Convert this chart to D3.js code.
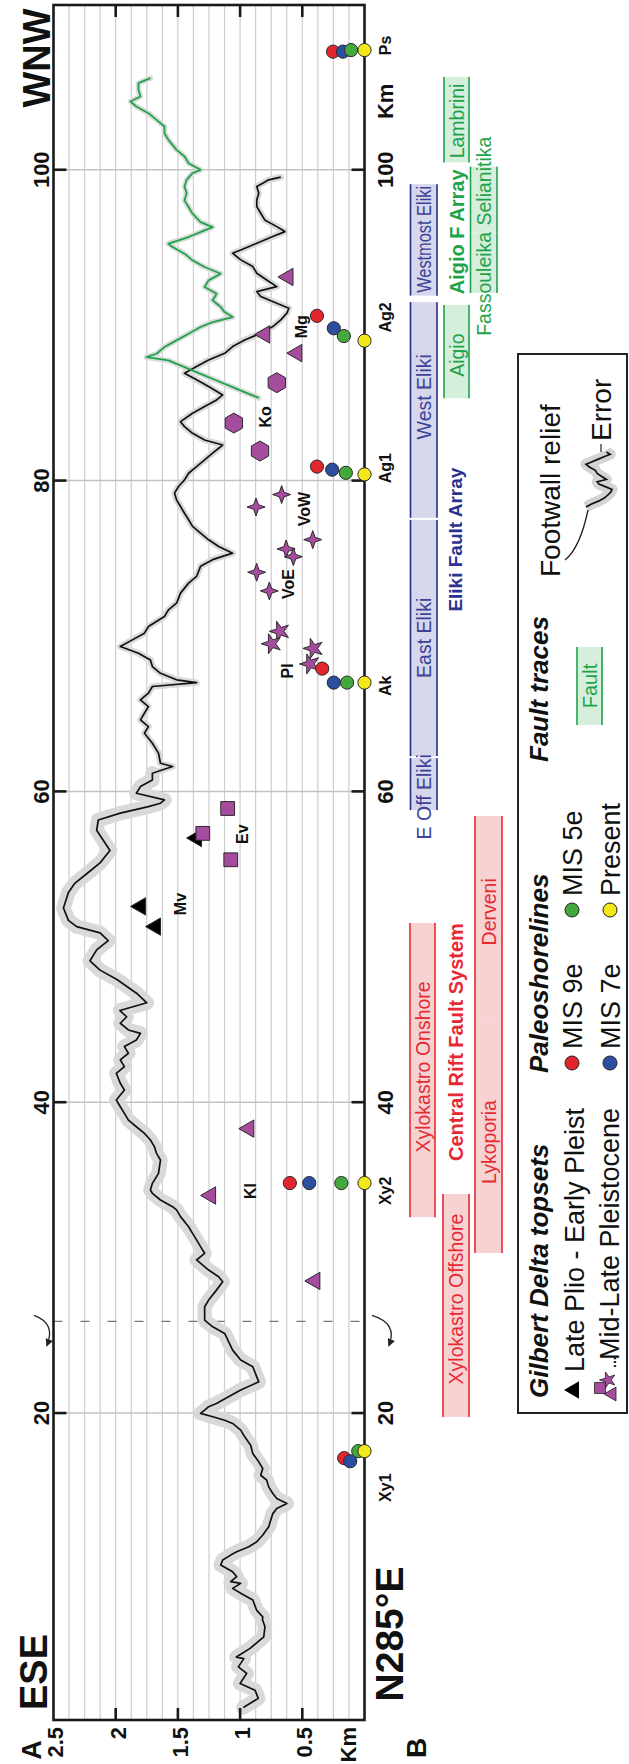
<!DOCTYPE html>
<html><head><meta charset="utf-8">
<script src="https://cdn.jsdelivr.net/npm/d3@7"></script>
<style>body{margin:0;background:#fff}svg{display:block}text{font-family:"Liberation Sans",Arial,Helvetica,sans-serif}</style>
</head><body><svg id="c" width="629" height="1764"></svg>
<script>
// ---------------- DATA ----------------
// Footwall relief profile (black): distance along profile (km) and elevation (km)
const footwallKm = [1.06,1.64,2.17,2.6,3.25,3.67,4.2,4.3,4.86,5.6,6.25,6.7,6.89,7.3,7.97,8.40,8.72,9.04,9.15,9.47,9.79,10.22,10.54,10.86,11.08,11.40,11.72,12.15,12.69,13.53,13.86,14.18,14.50,14.82,15.25,15.68,16.0,16.43,16.86,17.40,17.93,18.47,18.90,19.33,19.54,19.76,19.98,20.19,20.41,20.62,20.84,21.48,22.01,22.33,22.98,23.41,24.05,25.12,25.55,25.98,26.84,27.27,27.91,28.45,28.77,29.2,29.85,30.28,30.71,31.14,31.56,31.99,32.64,33.07,33.28,33.71,34.14,34.35,34.78,35.42,36.28,36.71,37.14,37.57,38.0,38.42,38.85,39.28,39.71,40.14,40.79,41.22,41.86,42.29,42.72,43.15,43.58,44.0,44.43,44.65,45.08,45.5,45.9,46.4,47.0,47.9,48.5,49.1,49.8,50.4,50.9,51.3,51.7,52.5,53.5,54.1,54.7,55.4,56.2,57.5,58.16,58.6,59.02,59.24,59.45,59.88,60.31,60.74,61.17,61.6,61.81,62.46,63.1,63.74,64.17,64.6,65.03,65.46,65.89,66.32,66.75,67.0,67.18,67.6,68.03,68.46,68.89,69.32,69.75,70.18,70.61,71.25,71.68,72.11,72.76,73.4,73.83,74.48,74.91,75.33,75.76,76.19,76.62,77.05,77.48,77.9,78.33,78.76,79.19,79.62,80.04,80.47,80.9,81.33,81.76,82.29,82.61,83.04,83.47,83.79,84.33,84.76,85.19,85.51,86.05,86.48,86.91,87.34,87.76,88.19,88.62,89.05,89.48,89.91,90.34,90.77,91.09,91.41,91.84,92.16,92.48,92.91,93.34,93.77,94.2,94.63,94.84,95.27,95.7,96.02,96.34,96.77,97.2,97.63,98.06,98.49,98.92,99.13,99.35,99.52];
const footwallElev = [0.974,0.854,0.88,1.0,0.947,1.014,0.97,1.03,0.92,0.81,0.80,0.82,0.818,0.866,0.898,0.995,1.06,0.995,1.076,1.027,1.06,1.156,1.14,1.076,1.027,0.93,0.866,0.818,0.77,0.737,0.705,0.624,0.705,0.737,0.77,0.786,0.834,0.818,0.85,0.898,0.915,0.963,0.995,1.06,1.124,1.22,1.318,1.285,1.253,1.19,1.14,0.995,0.85,0.866,0.898,0.995,1.06,1.124,1.22,1.285,1.285,1.253,1.19,1.14,1.172,1.253,1.35,1.285,1.318,1.35,1.382,1.414,1.479,1.511,1.543,1.64,1.705,1.721,1.705,1.656,1.64,1.672,1.689,1.721,1.769,1.834,1.898,1.93,1.963,1.995,1.93,1.963,1.995,1.93,1.963,1.898,1.93,1.834,1.801,1.898,1.963,1.912,1.966,1.75,1.83,1.99,2.126,2.207,2.153,2.06,2.126,2.314,2.38,2.42,2.38,2.327,2.233,2.126,2.046,2.153,2.14,1.963,1.737,1.64,1.608,1.834,1.801,1.705,1.705,1.543,1.64,1.656,1.705,1.769,1.737,1.801,1.769,1.737,1.801,1.737,1.705,1.35,1.511,1.64,1.705,1.721,1.817,1.963,1.866,1.769,1.737,1.608,1.576,1.511,1.479,1.414,1.35,1.318,1.221,1.06,1.172,1.253,1.318,1.382,1.414,1.447,1.479,1.511,1.527,1.495,1.447,1.414,1.35,1.285,1.221,1.14,1.285,1.382,1.447,1.479,1.382,1.285,1.189,1.14,1.253,1.35,1.447,1.35,1.253,1.124,1.06,0.963,0.834,0.737,0.673,0.624,0.608,0.705,0.834,0.866,0.705,0.786,0.866,0.898,0.995,1.06,0.995,0.866,0.737,0.64,0.705,0.802,0.834,0.866,0.866,0.85,0.866,0.818,0.77,0.673];
// Footwall relief of the Aigio fault array (green)
const aigioKm = [85.32,85.58,86.01,86.44,86.87,87.3,87.73,87.94,88.16,88.59,89.02,89.45,89.88,90.2,90.52,90.84,91.17,91.6,92.02,92.45,92.88,93.31,93.74,94.17,94.6,95.03,95.24,95.67,96.1,96.31,96.63,97.17,97.6,98.03,98.49,98.92,99.35,99.78,99.99,100.42,100.85,101.28,101.92,102.35,102.78,103.21,103.64,104.07,104.39,104.71,105.14,105.57,105.89];
const aigioElev = [0.85,0.93,1.06,1.189,1.318,1.447,1.576,1.753,1.672,1.608,1.511,1.414,1.318,1.221,1.06,1.124,1.156,1.221,1.189,1.285,1.253,1.156,1.285,1.382,1.447,1.543,1.576,1.414,1.285,1.221,1.318,1.382,1.414,1.447,1.43,1.447,1.43,1.382,1.318,1.414,1.447,1.511,1.576,1.608,1.608,1.672,1.737,1.834,1.882,1.801,1.817,1.817,1.721];
// error (half-width, km) of the relief profiles per distance range
const errFromKm = [0, 61];
const errToKm = [61, 100];
const errHalf = [0.058, 0.026];
const aigioErrHalf = 0.022;

// Paleoshorelines at sites
const siteNames = ["Xy1","Xy2","Ak","Ag1","Ag2","Ps"];
const siteLabelKm = [15.2,34.3,66.8,80.8,90.5,108.0];
const mis9eKm = [17.1,34.8,67.9,80.9,90.6,107.6];
const mis9eElev = [0.163,0.60,0.34,0.382,0.382,0.253];
const mis7eKm = [16.9,34.8,67.0,80.7,89.8,107.6];
const mis7eElev = [0.115,0.444,0.247,0.26,0.247,0.173];
const mis5eKm = [17.55,34.8,67.0,80.5,89.3,107.7];
const mis5eElev = [0.05,0.186,0.14,0.15,0.166,0.108];
const presentKm = [17.55,34.8,67.0,80.4,89.0,107.7];
const presentElev = [0,0,0,0,0,0];

// Gilbert delta topsets
const lateTriKm = [52.6,51.3,57.0];
const lateTriElev = [1.80,1.68,1.35];
const midTriKm = [38.3,34.0,28.5,89.4,88.2,93.1];
const midTriElev = [0.93,1.237,0.399,0.802,0.544,0.615];
const midSquareKm = [57.3,55.6,58.9];
const midSquareElev = [1.30,1.075,1.10];
const midStarKm = [70.3,69.5,69.2,68.2];
const midStarElev = [0.68,0.746,0.41,0.438];
const midStar4Km = [78.3,79.1,76.2,75.6,75.1,74.1,72.9];
const midStar4Elev = [0.872,0.666,0.416,0.63,0.572,0.867,0.765];
const midHexKm = [83.7,81.9,86.3];
const midHexElev = [1.05,0.84,0.705];
const deltaNames = ["Kl","Ev","Mv","Pl","VoE","VoW","Ko","Mg"];
const deltaLabelKm = [34.28,57.25,52.75,67.75,73.34,78.17,84.1,89.9];
const deltaLabelElev = [0.92,0.985,1.483,0.623,0.615,0.486,0.80,0.51];

// Fault traces
const eliNames = ["Westmost Eliki","West Eliki","East Eliki","E Off Eliki"];
const eliFrom = [91.9,77.6,62.27,58.8];
const eliTo = [99.07,91.48,77.47,62.14];
const eliLabelKm = [95.52,85.39,69.88,59.65];
const crfNames = ["Xylokastro Onshore","Xylokastro Offshore","Derveni","Lykoporia"];
const crfFrom = [32.6,19.75,45.36,30.3];
const crfTo = [51.53,34.1,58.42,45.36];
const crfLabelKm = [42.27,27.34,52.25,37.44];
const crfColumn = [0,1,2,2];
const agNames = ["Lambrini","Aigio","Selianitika","Fassouleika"];
const agFrom = [100.47,85.3,95.98,92.07];
const agTo = [105.97,91.3,100.2,95.98];
const agLabelKm = [103.14,88.07,99.27,92.66];
const agColumn = [1,1,2,2];
const groupNames = ["Eliki Fault Array","Central Rift Fault System","Aigio F Array"];
const groupKm = [76.2,43.87,96.0];
const distTicks = [20,40,60,80,100];
const rightTickLabels = ["20","40","60","","100"];
const elevTicks = [2.5,2,1.5,1,0.5];
const dashedKm = 25.9;

// ---------------- DRAWING ----------------
const svg = d3.select('#c');
svg.append('rect').attr('width',629).attr('height',1764).attr('fill','#fff');
const xE = d3.scaleLinear().domain([0,2.5]).range([364.5,53.5]);
const yK = d3.scaleLinear().domain([0.25,110.6]).range([1720,5]);
const FRAME = {x0:xE(2.5), x1:xE(0), y0:yK(110.6), y1:yK(0.25)};
const PURPLE = '#a54c9f';

function vtext(sel,x,y,str,o={}){
  const t = sel.append('text').attr('transform',`translate(${x},${y}) rotate(-90)`)
    .attr('text-anchor',o.anchor||'middle').attr('dy',o.dy||'0.36em')
    .attr('font-size',o.size||16).attr('font-weight',o.weight||'normal')
    .attr('font-style',o.style||'normal').attr('fill',o.fill||'#111').text(str);
  if(o.len) t.attr('textLength',o.len).attr('lengthAdjust','spacingAndGlyphs');
  return t;
}

const plot = svg.append('g');
plot.append('g').selectAll('line').data(d3.range(0.125,2.5,0.125)).join('line')
  .attr('x1',d=>xE(d)).attr('x2',d=>xE(d)).attr('y1',FRAME.y0).attr('y2',FRAME.y1)
  .attr('stroke','#cdcdcd').attr('stroke-width',1.2);
plot.append('g').selectAll('line').data(distTicks).join('line')
  .attr('x1',FRAME.x0).attr('x2',FRAME.x1).attr('y1',d=>yK(d)).attr('y2',d=>yK(d))
  .attr('stroke','#c2c2c2').attr('stroke-width',1.5);
plot.append('line').attr('x1',FRAME.x0).attr('x2',FRAME.x1).attr('y1',yK(dashedKm)).attr('y2',yK(dashedKm))
  .attr('stroke','#777').attr('stroke-width',1.4).attr('stroke-dasharray','9,18');

const fw = d3.zip(footwallKm,footwallElev).map(([k,e])=>({k,e}));
const ag = d3.zip(aigioKm,aigioElev).map(([k,e])=>({k,e}));
const line = d3.line().x(d=>xE(d.e)).y(d=>yK(d.k));
errFromKm.forEach((f,i)=>{
  const seg = fw.filter(d=>d.k>=f-0.5 && d.k<=errToKm[i]+0.5);
  plot.append('path').attr('d',line(seg)).attr('fill','none').attr('stroke','#d9d9d9')
    .attr('stroke-width',xE(0)-xE(2*errHalf[i])).attr('stroke-linejoin','round').attr('stroke-linecap','round');
});
plot.append('path').attr('d',line(ag)).attr('fill','none').attr('stroke','#dadada')
  .attr('stroke-width',xE(0)-xE(2*aigioErrHalf)).attr('stroke-linejoin','round').attr('stroke-linecap','round');
plot.append('path').attr('d',line(fw)).attr('fill','none').attr('stroke','#111').attr('stroke-width',1.7).attr('stroke-linejoin','round');
plot.append('path').attr('d',line(ag)).attr('fill','none').attr('stroke','#1fa34a').attr('stroke-width',1.8).attr('stroke-linejoin','round');

plot.append('rect').attr('x',FRAME.x0).attr('y',FRAME.y0).attr('width',FRAME.x1-FRAME.x0).attr('height',FRAME.y1-FRAME.y0)
  .attr('fill','none').attr('stroke','#1a1a1a').attr('stroke-width',2.6);
const tk = plot.append('g').attr('stroke','#1a1a1a').attr('stroke-width',2.6);
elevTicks.filter(d=>d<2.5).forEach(e=>{
  tk.append('line').attr('x1',xE(e)).attr('x2',xE(e)).attr('y1',FRAME.y1).attr('y2',FRAME.y1-12);
  tk.append('line').attr('x1',xE(e)).attr('x2',xE(e)).attr('y1',FRAME.y0).attr('y2',FRAME.y0+12);
});
distTicks.forEach(k=>{
  tk.append('line').attr('x1',FRAME.x0).attr('x2',FRAME.x0+13).attr('y1',yK(k)).attr('y2',yK(k));
  tk.append('line').attr('x1',FRAME.x1).attr('x2',FRAME.x1-13).attr('y1',yK(k)).attr('y2',yK(k));
});
const lab = svg.append('g');
distTicks.forEach((k,i)=>{
  vtext(lab,41,yK(k),String(k),{size:22,weight:'bold'});
  if(rightTickLabels[i]) vtext(lab,385,yK(k),rightTickLabels[i],{size:22,weight:'bold'});
});
elevTicks.forEach(e=>vtext(lab,xE(e)+2,1727,String(e),{size:22,weight:'bold',anchor:'end'}));
vtext(lab,xE(0.13),1727,'Km',{size:22,weight:'bold',anchor:'end'});
vtext(lab,385,yK(104.4),'Km',{size:22,weight:'bold'});
vtext(lab,33,1672,'ESE',{size:38,weight:'bold'});
vtext(lab,36,58,'WNW',{size:38,weight:'bold'});
vtext(lab,389,1634,'N285°E',{size:39,weight:'bold'});
vtext(lab,31,1750,'A',{size:27,weight:'bold'});
vtext(lab,416,1748,'B',{size:28,weight:'bold'});

const defs = svg.append('defs');
defs.append('marker').attr('id','ah').attr('viewBox','0 0 10 10').attr('refX',8).attr('refY',5)
  .attr('markerWidth',6).attr('markerHeight',6).attr('orient','auto')
  .append('path').attr('d','M0,0L10,5L0,10Z').attr('fill','#222');
const yd = yK(dashedKm);
[[34,50],[372,392]].forEach(([a,b])=>{
  svg.append('path').attr('d',`M${a},${yd-6} Q${b+6},${yd+2} ${b-3},${yd+24}`).attr('fill','none')
    .attr('stroke','#222').attr('stroke-width',1.3).attr('marker-end','url(#ah)');
});

const triPath = d3.symbol(d3.symbolTriangle,130)();
const sqPath = d3.symbol(d3.symbolSquare,190)();
const starPath = d3.symbol(d3.symbolStar,125)();
function polyPath(n,rOut,rIn,off){const pts=d3.range(n*(rIn?2:1)).map(i=>{const a=off+i*Math.PI/(rIn?n:n/2);const r=(rIn&&i%2)?rIn:rOut;return [r*Math.cos(a),r*Math.sin(a)];});return 'M'+pts.join('L')+'Z';}
const hexPath = polyPath(6,10,0,Math.PI/2);
const star4Path = polyPath(4,9,3.3,0);
const mk = svg.append('g').attr('stroke','#2a2a2a').attr('stroke-width',1);
function drawMarks(kms,elevs,path,fill,rot){
  mk.append('g').selectAll('path').data(d3.zip(kms,elevs)).join('path')
    .attr('d',path).attr('fill',fill)
    .attr('transform',([k,e])=>`translate(${xE(e)},${yK(k)}) rotate(${rot})`);
}
drawMarks(lateTriKm,lateTriElev,triPath,'#000',-90);
drawMarks(midSquareKm,midSquareElev,sqPath,PURPLE,0);
drawMarks(midTriKm,midTriElev,triPath,PURPLE,-90);
drawMarks(midStarKm,midStarElev,starPath,PURPLE,-90);
drawMarks(midStar4Km,midStar4Elev,star4Path,PURPLE,0);
drawMarks(midHexKm,midHexElev,hexPath,PURPLE,0);
const shore = [[mis9eKm,mis9eElev,'#e3262b'],[mis7eKm,mis7eElev,'#2c4ea0'],[mis5eKm,mis5eElev,'#45a83e'],[presentKm,presentElev,'#f3e81a']];
shore.forEach(([ks,es,c])=>{
  mk.append('g').selectAll('circle').data(d3.zip(ks,es)).join('circle')
    .attr('cx',([k,e])=>xE(e)).attr('cy',([k])=>yK(k)).attr('r',6.6).attr('fill',c);
});
siteNames.forEach((s,i)=>vtext(lab,385,yK(siteLabelKm[i]),s,{size:16,weight:'bold'}));
deltaNames.forEach((s,i)=>vtext(lab,xE(deltaLabelElev[i]),yK(deltaLabelKm[i]),s,{size:16,weight:'bold'}));

const fb = svg.append('g');
function bar(x0,x1,kFrom,kTo,fill,edge){
  const ya = yK(kTo), yb = yK(kFrom);
  fb.append('rect').attr('x',x0).attr('y',ya).attr('width',x1-x0).attr('height',yb-ya).attr('fill',fill);
  [x0,x1].forEach(x=>fb.append('line').attr('x1',x).attr('x2',x).attr('y1',ya).attr('y2',yb).attr('stroke',edge).attr('stroke-width',1.6));
}
const BLUE = {fill:'#d6d7ea',edge:'#262b8a',text:'#3c4298'};
const RED = {fill:'#f7d2d3',edge:'#e62a34',text:'#e62a34'};
const GRN = {fill:'#d5efdc',edge:'#1fa34a',text:'#1fa34a'};
const redCols = [[410,435],[443,469],[475,502]];
const grnCols = [null,[444,469],[470.5,497]];
eliNames.forEach((n,i)=>{
  bar(410.5,437,eliFrom[i],eliTo[i],BLUE.fill,BLUE.edge);
  vtext(fb,423.7,yK(eliLabelKm[i]),n,{size:19.5,fill:BLUE.text,len:n==='Westmost Eliki'?107:null});
});
crfNames.forEach((n,i)=>{
  const c = redCols[crfColumn[i]];
  bar(c[0],c[1],crfFrom[i],crfTo[i],RED.fill,RED.edge);
  vtext(fb,(c[0]+c[1])/2,yK(crfLabelKm[i]),n,{size:19.5,fill:RED.text});
});
agNames.forEach((n,i)=>{
  const c = grnCols[agColumn[i]];
  bar(c[0],c[1],agFrom[i],agTo[i],GRN.fill,GRN.edge);
  vtext(fb,(c[0]+c[1])/2,yK(agLabelKm[i]),n,{size:19.5,fill:GRN.text});
});
vtext(fb,455,yK(groupKm[0]),groupNames[0],{size:19,weight:'bold',fill:'#2b3190'});
vtext(fb,456,yK(groupKm[1]),groupNames[1],{size:20,weight:'bold',fill:'#e62a34'});
vtext(fb,457,yK(groupKm[2]),groupNames[2],{size:20,weight:'bold',fill:'#1fa34a'});

// ---------------- LEGEND ----------------
const lg = svg.append('g');
lg.append('rect').attr('x',518).attr('y',354).attr('width',109).attr('height',1059).attr('fill','none').attr('stroke','#222').attr('stroke-width',2);
vtext(lg,539,1398,'Gilbert Delta topsets',{size:26,weight:'bold',style:'italic',anchor:'start'});
vtext(lg,539,1073,'Paleoshorelines',{size:26,weight:'bold',style:'italic',anchor:'start'});
vtext(lg,539,762,'Fault traces',{size:26,weight:'bold',style:'italic',anchor:'start'});
vtext(lg,550,577,'Footwall relief',{size:28,anchor:'start'});
lg.append('path').attr('d',triPath).attr('transform','translate(574,1390) rotate(-90)').attr('fill','#000');
vtext(lg,574,1372,'Late Plio - Early Pleist',{size:27,anchor:'start'});
lg.append('path').attr('d',sqPath).attr('transform','translate(600,1388) scale(0.8)').attr('fill',PURPLE).attr('stroke','#222');
lg.append('path').attr('d',starPath).attr('transform','translate(608,1380) rotate(-90) scale(0.8)').attr('fill',PURPLE).attr('stroke','#222');
lg.append('path').attr('d',triPath).attr('transform','translate(612,1394) rotate(-90) scale(0.8)').attr('fill',PURPLE).attr('stroke','#222');
vtext(lg,611,1368,'...',{size:14,anchor:'start',weight:'bold'});
vtext(lg,609,1360,'Mid-Late Pleistocene',{size:27,anchor:'start'});
const legCircles = [[572,1063,'#e3262b','MIS 9e'],[610,1063,'#2c4ea0','MIS 7e'],[572,910,'#45a83e','MIS 5e'],[610,910,'#f3e81a','Present']];
legCircles.forEach(([x,y,c,t])=>{
  lg.append('circle').attr('cx',x).attr('cy',y).attr('r',7).attr('fill',c).attr('stroke','#222');
  vtext(lg,x,y-14,t,{size:27,anchor:'start'});
});
lg.append('rect').attr('x',577).attr('y',647).attr('width',25).attr('height',78).attr('fill',GRN.fill);
[577,602].forEach(x=>lg.append('line').attr('x1',x).attr('x2',x).attr('y1',647).attr('y2',725).attr('stroke',GRN.edge).attr('stroke-width',1.6));
vtext(lg,589.5,686,'Fault',{size:20,fill:GRN.text});
const iconData = fw.filter(d=>d.k>=88.5 && d.k<=96.5);
const ix = d3.scaleLinear().domain(d3.extent(iconData,d=>d.e)).range([612,586]);
const iy = d3.scaleLinear().domain(d3.extent(iconData,d=>d.k)).range([507,452]);
const iline = d3.line().x(d=>ix(d.e)).y(d=>iy(d.k));
lg.append('path').attr('d',iline(iconData)).attr('fill','none').attr('stroke','#d4d4d4').attr('stroke-width',11).attr('stroke-linejoin','round');
lg.append('path').attr('d',iline(iconData)).attr('fill','none').attr('stroke','#111').attr('stroke-width',1.7);
lg.append('line').attr('x1',601).attr('x2',601).attr('y1',444).attr('y2',452).attr('stroke','#222').attr('stroke-width',1.2);
vtext(lg,601,441,'Error',{size:28,anchor:'start'});
lg.append('path').attr('d','M565,560 Q580,548 588,510').attr('fill','none').attr('stroke','#222').attr('stroke-width',1.3);
</script></body></html>
